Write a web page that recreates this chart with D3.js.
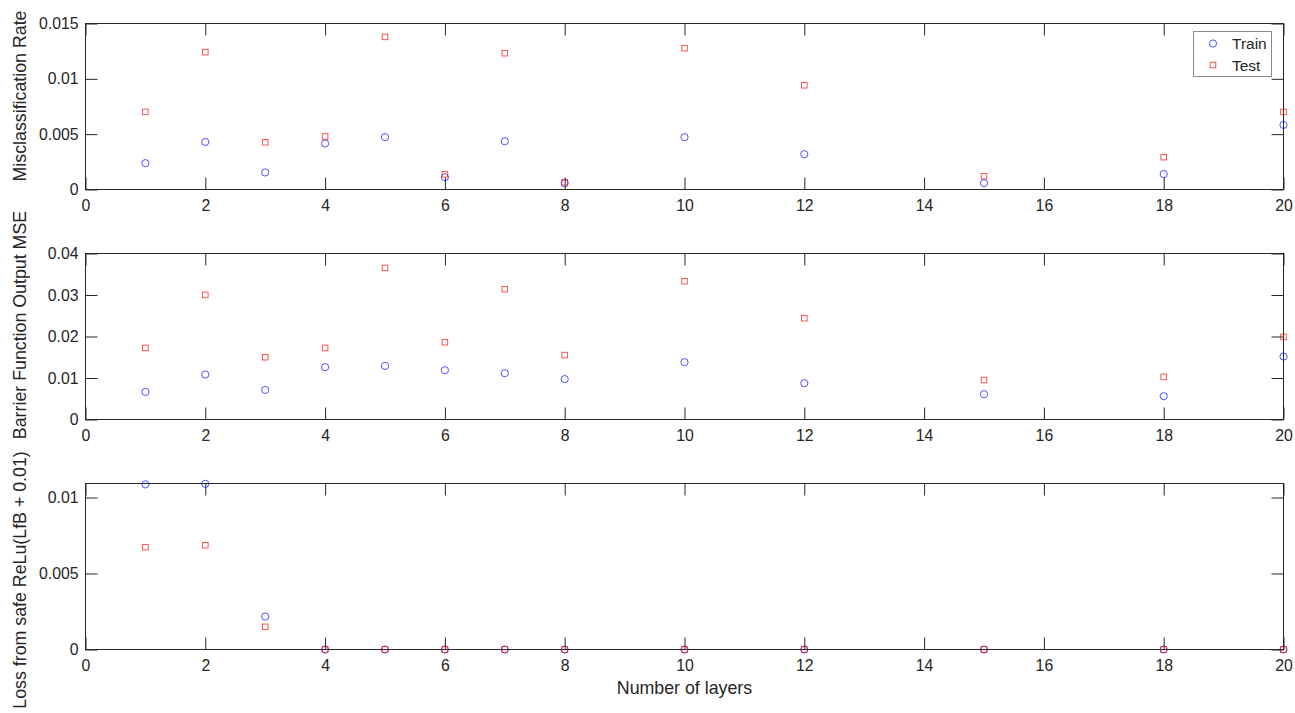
<!DOCTYPE html>
<html>
<head>
<meta charset="utf-8">
<script src="https://cdn.jsdelivr.net/npm/d3@7"></script>
<style>
  html, body { margin: 0; padding: 0; background: #fff; }
  svg { display: block; font-family: "Liberation Sans", Arial, Helvetica, sans-serif; }
</style>
</head>
<body>
<svg id="chart" width="1295" height="713"></svg>
<script>
// Number of layers evaluated
const layers = [1, 2, 3, 4, 5, 6, 7, 8, 10, 12, 15, 18, 20];

// Misclassification rate
const missTrain = [0.00238, 0.0043, 0.00154, 0.00416, 0.00473, 0.00111, 0.00436, 0.00057, 0.00473, 0.00319, 0.00057, 0.0014, 0.00584];
const missTest  = [0.00701, 0.01241, 0.00427, 0.00479, 0.01379, 0.00138, 0.01232, 0.00066, 0.01277, 0.00942, 0.0012, 0.00292, 0.00701];

// Barrier function output MSE
const mseTrain = [0.00665, 0.01084, 0.00713, 0.0126, 0.01292, 0.01188, 0.01116, 0.00973, 0.01381, 0.00875, 0.0061, 0.00561, 0.01518];
const mseTest  = [0.01725, 0.03002, 0.01501, 0.01725, 0.03653, 0.01863, 0.0314, 0.01552, 0.03333, 0.02441, 0.0095, 0.01027, 0.0199];

// Loss from safe ReLu(LfB + 0.01)
const lossTrain = [0.01086, 0.0109, 0.00217, 0, 0, 0, 0, 0, 0, 0, 0, 0, 0];
const lossTest  = [0.00673, 0.00686, 0.00149, 0, 0, 0, 0, 0, 0, 0, 0, 0, 0];

const xTicks = [0, 2, 4, 6, 8, 10, 12, 14, 16, 18, 20];
const missTicks = [0, 0.005, 0.01, 0.015];
const mseTicks = [0, 0.01, 0.02, 0.03, 0.04];
const lossTicks = [0, 0.005, 0.01];

const svg = d3.select("#chart");
const ink = "#262626";
const left = 85.5, right = 1283.5;
const tickLen = 12;

const x = d3.scaleLinear().domain([0, 20]).range([left, right]);

const panels = [
  { top: 23.5, bottom: 189.5, domain: [0, 0.015], ticks: missTicks, train: missTrain, test: missTest,
    label: "Misclassification Rate", labelY: 96, legend: true },
  { top: 253.5, bottom: 419.5, domain: [0, 0.04], ticks: mseTicks, train: mseTrain, test: mseTest,
    label: "Barrier Function Output MSE", labelY: 325 },
  { top: 483.5, bottom: 649.5, domain: [0, 0.01092], ticks: lossTicks, train: lossTrain, test: lossTest,
    label: "Loss from safe ReLu(LfB + 0.01)", labelY: 580 }
];

const fmt = v => (v === 0 ? "0" : String(+v.toFixed(4)));

function circle(g, cx, cy) {
  g.append("circle").attr("cx", cx).attr("cy", cy).attr("r", 3.6)
    .attr("fill", "none").attr("stroke", "#0000ff").attr("stroke-width", 0.9).attr("stroke-opacity", 0.75);
}
function square(g, cx, cy) {
  g.append("rect").attr("x", cx - 2.8).attr("y", cy - 2.8).attr("width", 5.6).attr("height", 5.6)
    .attr("fill", "none").attr("stroke", "#ff0000").attr("stroke-width", 0.9).attr("stroke-opacity", 0.75);
}

panels.forEach(p => {
  const y = d3.scaleLinear().domain(p.domain).range([p.bottom, p.top]);
  const g = svg.append("g");

  // frame
  g.append("rect").attr("x", left).attr("y", p.top).attr("width", right - left).attr("height", p.bottom - p.top)
    .attr("fill", "none").attr("stroke", ink).attr("stroke-width", 1);

  // bottom axis with inward ticks
  const xb = d3.axisBottom(x).tickValues(xTicks).tickSize(-tickLen).tickFormat(d3.format("d"));
  const ax = g.append("g").attr("transform", `translate(0,${p.bottom})`).call(xb);
  // top ticks
  const xt = d3.axisTop(x).tickValues(xTicks).tickSize(-tickLen).tickFormat("");
  const axt = g.append("g").attr("transform", `translate(0,${p.top})`).call(xt);
  // left axis
  const yl = d3.axisLeft(y).tickValues(p.ticks).tickSize(-tickLen).tickFormat(fmt);
  const ayl = g.append("g").attr("transform", `translate(${left},0)`).call(yl);
  // right ticks
  const yr = d3.axisRight(y).tickValues(p.ticks).tickSize(-tickLen).tickFormat("");
  const ayr = g.append("g").attr("transform", `translate(${right},0)`).call(yr);

  [ax, axt, ayl, ayr].forEach(a => {
    a.select(".domain").remove();
    a.attr("font-family", null);
    a.selectAll(".tick line").attr("stroke", ink);
    a.selectAll("text").attr("fill", ink).style("font-size", "15.8px");
  });
  ax.selectAll("text").attr("y", 10.5).attr("dy", "0.71em");
  ayl.selectAll("text").attr("x", -7);

  // y label
  g.append("text")
    .attr("transform", `translate(25.5,${p.labelY}) rotate(-90)`)
    .attr("text-anchor", "middle").attr("fill", ink).style("font-size", "17.8px")
    .text(p.label);

  // markers
  layers.forEach((l, i) => circle(g, x(l), y(p.train[i])));
  layers.forEach((l, i) => square(g, x(l), y(p.test[i])));

  if (p.legend) {
    const lg = svg.append("g");
    lg.append("rect").attr("x", 1193.5).attr("y", 31.5).attr("width", 78).attr("height", 45)
      .attr("fill", "#fff").attr("stroke", "#8a8a8a").attr("stroke-width", 1);
    circle(lg, 1213, 43.5);
    square(lg, 1213, 65);
    lg.append("text").attr("x", 1232).attr("y", 49).attr("fill", ink).style("font-size", "15.5px").text("Train");
    lg.append("text").attr("x", 1232).attr("y", 70.5).attr("fill", ink).style("font-size", "15.5px").text("Test");
  }
});

// x label
svg.append("text").attr("x", (left + right) / 2).attr("y", 694)
  .attr("text-anchor", "middle").attr("fill", ink).style("font-size", "17.8px")
  .text("Number of layers");
</script>
</body>
</html>
